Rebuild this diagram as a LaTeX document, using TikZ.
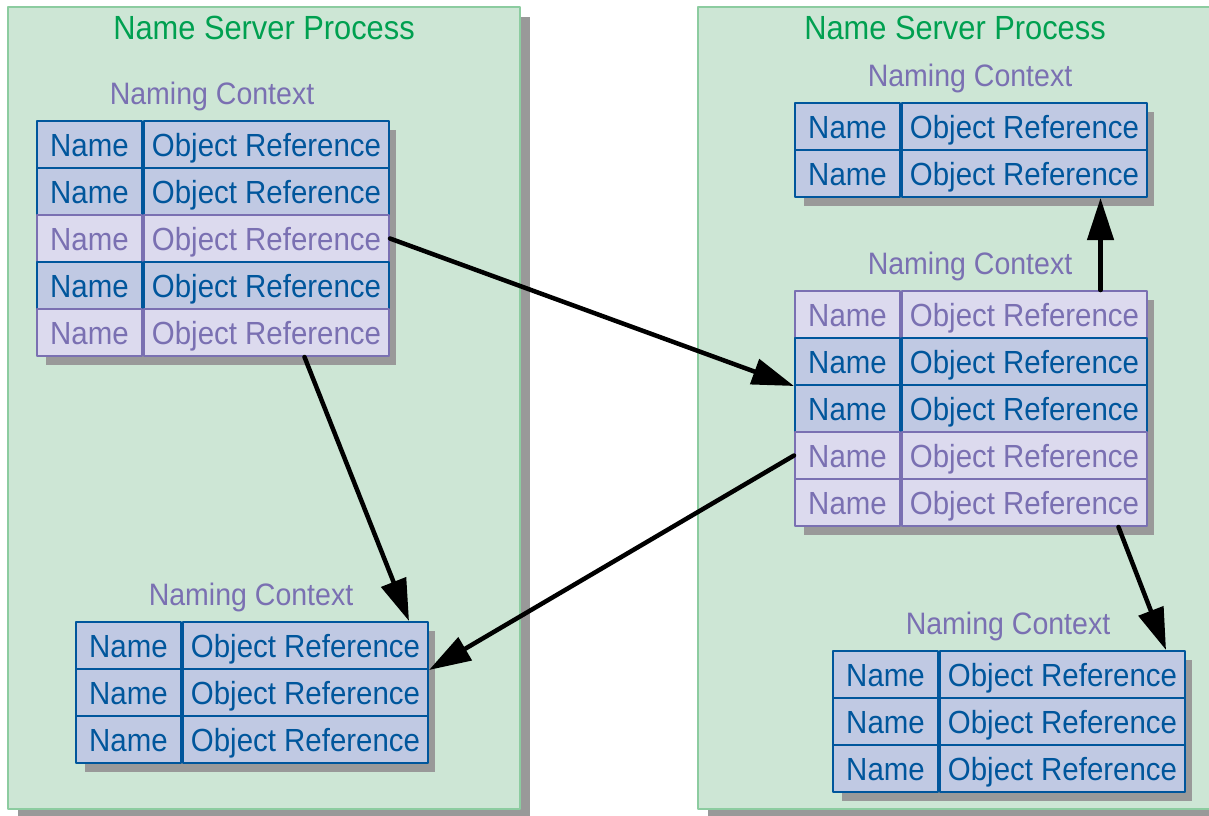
\documentclass[tikz,border=0pt]{standalone}
\usepackage{fontspec}
\setmainfont{Liberation Sans}[FakeStretch=0.92]
\usepackage{tikz}
\usetikzlibrary{arrows.meta,shadows}

\definecolor{procgreen}{RGB}{0,160,80}
\definecolor{procfill}{RGB}{205,230,213}
\definecolor{procline}{RGB}{140,204,160}
\definecolor{filldk}{RGB}{192,201,227}
\definecolor{linedk}{RGB}{0,86,156}
\definecolor{filllt}{RGB}{220,218,238}
\definecolor{linelt}{RGB}{122,112,178}
\definecolor{shadowgray}{RGB}{153,153,153}

\tikzset{
  cell/.style={rectangle,draw,line width=2pt,inner sep=0pt,minimum height=47pt,text height=23pt,text depth=0pt,font=\fontsize{32}{36}\selectfont},
  namecell/.style={cell,minimum width=105pt},
  refcell/.style={cell,minimum width=245pt,anchor=west},
  ctxlabel/.style={anchor=base,text=linelt,font=\fontsize{31}{36}\selectfont},
  procbox/.style={rectangle,draw=procline,fill=procfill,line width=2.5pt,drop shadow={shadow xshift=10pt,shadow yshift=-10pt,fill=shadowgray,opacity=1}},
  proctitle/.style={anchor=base,text=procgreen,font=\fontsize{33.5}{38}\selectfont},
  link/.style={->,line width=4.5pt}
}

% #1 prefix, #2 left, #3 top, #4 row colours
\newcommand{\nctable}[4]{%
  \foreach \s [count=\i] in {#4}{
    \fill[shadowgray] (#2+9,#3+9+47*\i-47) rectangle (#2+359,#3+9+47*\i);
    \node[namecell,fill=fill\s,draw=line\s,text=line\s] (#1-\i-n) at (#2+52.5,#3+23.5+47*\i-47) {Name};
    \node[refcell,fill=fill\s,draw=line\s,text=line\s] (#1-\i-r) at (#1-\i-n.east) {Object Reference};
  }
  \node[ctxlabel] (#1-lbl) at (#2+175,#3-17) {Naming Context};
}

\begin{document}
\begin{tikzpicture}[line cap=round,line join=round,>={Triangle[length=42pt,width=26pt]},x=1pt,y=-1pt]
\useasboundingbox (0,0) rectangle (1209,815);
\node[procbox,minimum width=512pt,minimum height=802pt] (lproc) at (264,408) {};
\node[procbox,minimum width=514pt,minimum height=802pt] (rproc) at (955,408) {};
\node[proctitle] (lproc-title) at ([yshift=-34pt]lproc.north) {Name Server Process};
\node[proctitle] (rproc-title) at ([yshift=-34pt]rproc.north) {Name Server Process};
\nctable{tl}{37}{121}{dk,dk,lt,dk,lt}
\nctable{bl}{76}{622}{dk,dk,dk}
\nctable{rt}{795}{103}{dk,dk}
\nctable{rm}{795}{291}{lt,dk,dk,lt,lt}
\nctable{rb}{833}{651}{dk,dk,dk}
\draw[link] (tl-3-r.east) -- (rm-2-n.south west);
\draw[link] ([xshift=38pt]tl-5-r.south) -- ([xshift=-20pt]bl-1-r.north east);
\draw[link] (rm-4-n.west) -- (bl-1-r.south east);
\draw[link] ([xshift=76pt]rm-1-r.north) -- ([xshift=76pt]rt-2-r.south);
\draw[link] ([xshift=94pt]rm-5-r.south) -- ([xshift=-20pt]rb-1-r.north east);
\end{tikzpicture}
\end{document}
